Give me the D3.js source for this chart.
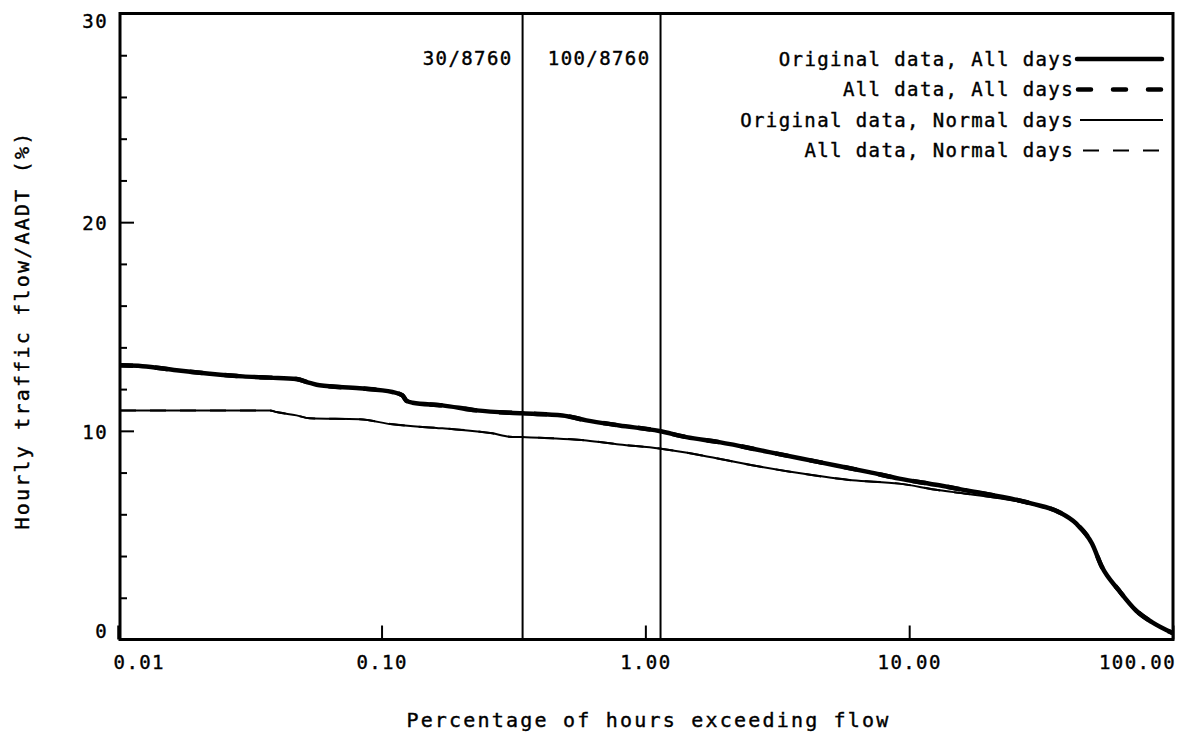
<!doctype html>
<html lang="en">
<head>
<meta charset="utf-8">
<title>Hourly traffic flow / AADT</title>
<script src="https://cdn.jsdelivr.net/npm/d3@7"></script>
<style>
  body { margin: 0; background: #fff; }
  svg { display: block; }
  text { font-family: "DejaVu Sans Mono", monospace; fill: #000; stroke: #000; stroke-width: 0.4px; }
  .tick line { stroke: #000; stroke-width: 2px; }
  .tick text { font-size: 19px; letter-spacing: 1.4px; }
</style>
</head>
<body>
<div class="chart"></div>
<script>
  // percentage of hours exceeding flow (x) and hourly flow / AADT in % (y)
  const allDaysPct = [0.0102, 0.0124, 0.0167, 0.0223, 0.0298, 0.0377, 0.0476, 0.0534, 0.0582, 0.0825, 0.110, 0.120, 0.124, 0.131, 0.170, 0.229, 0.342, 0.485, 0.598, 0.797, 1.13, 1.43, 1.905, 2.95, 4.56, 7.05, 9.17, 13.0, 16.4, 29.2, 37.0, 42.9, 49.3, 53.8, 62.4, 72.4, 83.2, 100];
  const originalAllDays = [13.14, 13.1, 12.9, 12.74, 12.61, 12.55, 12.48, 12.3, 12.18, 12.04, 11.86, 11.7, 11.45, 11.35, 11.22, 10.98, 10.84, 10.74, 10.5, 10.26, 9.99, 9.7, 9.46, 8.98, 8.5, 8.02, 7.71, 7.39, 7.15, 6.51, 6.1, 5.56, 4.6, 3.47, 2.35, 1.39, 0.83, 0.3];
  const allDataAllDays = [13.14, 13.1, 12.9, 12.74, 12.61, 12.55, 12.48, 12.3, 12.18, 12.04, 11.86, 11.7, 11.45, 11.35, 11.22, 10.98, 10.84, 10.74, 10.5, 10.26, 9.99, 9.7, 9.46, 8.98, 8.5, 8.02, 7.71, 7.39, 7.15, 6.51, 6.1, 5.56, 4.6, 3.47, 2.35, 1.39, 0.83, 0.3];

  const normalDaysPct = [0.0102, 0.0377, 0.040, 0.0476, 0.0534, 0.0825, 0.110, 0.170, 0.263, 0.305, 0.342, 0.598, 0.797, 1.13, 1.64, 2.54, 3.93, 6.08, 9.17, 13.0, 16.4, 29.2, 37.0, 42.9, 49.3, 53.8, 62.4, 72.4, 83.2, 100];
  const originalNormalDays = [10.98, 10.98, 10.9, 10.74, 10.6, 10.55, 10.31, 10.12, 9.88, 9.72, 9.7, 9.54, 9.35, 9.15, 8.82, 8.35, 7.95, 7.63, 7.47, 7.15, 6.99, 6.48, 6.1, 5.56, 4.6, 3.47, 2.35, 1.39, 0.83, 0.3];
  const allDataNormalDays = [10.98, 10.98, 10.9, 10.74, 10.6, 10.55, 10.31, 10.12, 9.88, 9.72, 9.7, 9.54, 9.35, 9.15, 8.82, 8.35, 7.95, 7.63, 7.47, 7.15, 6.99, 6.48, 6.1, 5.56, 4.6, 3.47, 2.35, 1.39, 0.83, 0.3];

  const xTicks = [0.01, 0.1, 1, 10, 100];
  const yTicks = [0, 10, 20, 30];
  const yMinorTicks = [2, 4, 6, 8, 12, 14, 16, 18, 22, 24, 26, 28];

  // design hour markers: 30th and 100th highest hour of the year
  const markers = [
    { label: '30/8760', pct: 30 / 8760 * 100 },
    { label: '100/8760', pct: 100 / 8760 * 100 }
  ];

  const series = [
    { name: 'Original data, All days', x: allDaysPct, y: originalAllDays, width: 4.5, dash: null, cap: 'round', x1: 1077, x2: 1162 },
    { name: 'All data, All days', x: allDaysPct, y: allDataAllDays, width: 4.5, dash: '13,22', cap: 'round', x1: 1078, x2: 1162 },
    { name: 'Original data, Normal days', x: normalDaysPct, y: originalNormalDays, width: 2, dash: null, cap: 'butt', x1: 1080, x2: 1163 },
    { name: 'All data, Normal days', x: normalDaysPct, y: allDataNormalDays, width: 2, dash: '16,14', cap: 'butt', x1: 1083, x2: 1163 }
  ];

  const width = 1187,
    height = 735,
    plotLeft = 120,
    plotRight = 1173,
    plotTop = 13.5,
    plotBottom = 639.5;

  const x = d3.scaleLog()
    .domain([0.0102, 100])
    .range([plotLeft, plotRight]);

  const y = d3.scaleLinear()
    .domain([0, 30])
    .range([plotBottom, plotTop]);

  const svg = d3.select('.chart').append('svg')
    .attr('width', width)
    .attr('height', height);

  const line = d3.line()
    .curve(d3.curveMonotoneX)
    .x(d => x(d[0]))
    .y(d => y(d[1]));

  // vertical marker lines
  svg.selectAll('line.marker')
    .data(markers)
    .enter()
    .append('line')
    .attr('class', 'marker')
    .attr('x1', d => x(d.pct))
    .attr('x2', d => x(d.pct))
    .attr('y1', plotTop)
    .attr('y2', plotBottom)
    .attr('stroke', '#000')
    .attr('stroke-width', 2);

  svg.selectAll('text.marker')
    .data(markers)
    .enter()
    .append('text')
    .attr('class', 'marker')
    .attr('x', d => x(d.pct) - 10)
    .attr('y', 65)
    .attr('text-anchor', 'end')
    .style('font-size', '19px')
    .style('letter-spacing', '1.4px')
    .text(d => d.label);

  // curves, drawn back to front so the dashed ones sit on top
  svg.selectAll('path.curve')
    .data(series)
    .enter()
    .append('path')
    .attr('class', 'curve')
    .attr('fill', 'none')
    .attr('stroke', '#000')
    .attr('stroke-width', d => d.width)
    .attr('stroke-dasharray', d => d.dash)
    .attr('stroke-linejoin', 'round')
    .attr('d', d => line(d.x.map((v, i) => [v, d.y[i]])));

  // axes
  const xAxis = svg.append('g')
    .attr('transform', `translate(0,${plotBottom})`)
    .call(d3.axisBottom(x)
      .tickValues(xTicks)
      .tickFormat(d3.format('.2f'))
      .tickSize(-14)
      .tickPadding(16));

  xAxis.selectAll('.tick text')
    .attr('dx', d => d === 0.01 ? 21 : d === 100 ? -36 : 0);

  svg.append('g')
    .attr('transform', `translate(${plotLeft},0)`)
    .call(d3.axisLeft(y)
      .tickValues(yMinorTicks)
      .tickFormat('')
      .tickSize(-7));

  const yAxis = svg.append('g')
    .attr('transform', `translate(${plotLeft},0)`)
    .call(d3.axisLeft(y)
      .tickValues(yTicks)
      .tickSize(-14)
      .tickPadding(12));

  yAxis.selectAll('.tick text')
    .attr('dy', d => d === 0 ? '-0.1em' : '0.4em')
    .attr('y', d => d === 30 ? 6 : 0);

  svg.selectAll('.domain').remove();

  // frame
  svg.append('rect')
    .attr('x', plotLeft)
    .attr('y', plotTop)
    .attr('width', plotRight - plotLeft)
    .attr('height', plotBottom - plotTop)
    .attr('fill', 'none')
    .attr('stroke', '#000')
    .attr('stroke-width', 3);

  // legend
  const legend = svg.selectAll('g.legend')
    .data(series)
    .enter()
    .append('g')
    .attr('class', 'legend')
    .attr('transform', (d, i) => `translate(0,${59 + i * 30.5})`);

  legend.append('text')
    .attr('x', 1074)
    .attr('dy', '0.35em')
    .attr('text-anchor', 'end')
    .style('font-size', '19px')
    .style('letter-spacing', '1.4px')
    .text(d => d.name);

  legend.append('line')
    .attr('x1', d => d.x1)
    .attr('x2', d => d.x2)
    .attr('stroke', '#000')
    .attr('stroke-width', d => d.width)
    .attr('stroke-dasharray', d => d.dash)
    .attr('stroke-linecap', d => d.cap);

  // axis titles
  svg.append('text')
    .attr('x', (plotLeft + plotRight) / 2 + 2)
    .attr('y', 727)
    .attr('text-anchor', 'middle')
    .style('font-size', '20px')
    .style('letter-spacing', '2.2px')
    .text('Percentage of hours exceeding flow');

  svg.append('text')
    .attr('transform', 'translate(29,330) rotate(-90)')
    .attr('text-anchor', 'middle')
    .style('font-size', '20px')
    .style('letter-spacing', '2.2px')
    .text('Hourly traffic flow/AADT (%)');
</script>
</body>
</html>
